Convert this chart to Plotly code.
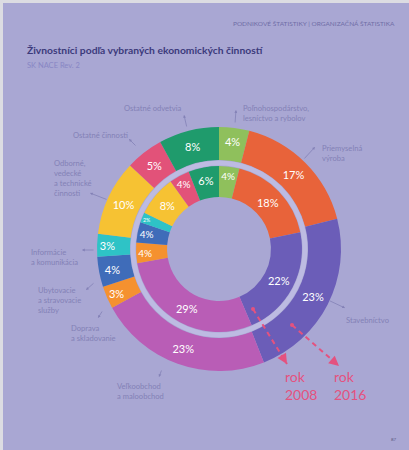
import plotly.graph_objects as go

W, H = 409, 450

# ---- data ----
categories = ["Poľnohospodárstvo, lesníctvo a rybolov", "Priemyselná výroba", "Stavebníctvo",
              "Veľkoobchod a maloobchod", "Doprava a skladovanie", "Ubytovacie a stravovacie služby",
              "Informácie a komunikácia", "Odborné, vedecké a technické činnosti",
              "Ostatné činnosti", "Ostatné odvetvia"]
values_2016 = [4, 17, 23, 23, 3, 4, 3, 10, 5, 8]
values_2008 = [4, 18, 22, 29, 4, 4, 2, 8, 4, 6]
colors = ["#8fc05c", "#e8633a", "#6b5db8", "#b95db6", "#f5912f", "#3f6cb9",
          "#2ec3c6", "#f6c233", "#e25279", "#1f9b6c"]
years = ["2008", "2016"]

BG = "#a9a7d3"
LBL = "#8381b6"
PINK = "#e4527f"

def px(x):
    return x / W

def py(y):
    return 1 - y / H

cx, cy = 219, 249
R_out, R_out_hole = 122, 89
R_in, R_in_hole = 83, 52

fig = go.Figure()
fig.add_trace(go.Pie(
    values=values_2016, labels=categories, text=[f"{v}%" for v in values_2016],
    texttemplate="%{text}", textposition="inside", insidetextorientation="horizontal",
    sort=False, direction="clockwise", hole=R_out_hole / R_out,
    marker=dict(colors=colors, line=dict(width=0)),
    textfont=dict(family="Lato", size=11, color="white"),
    domain=dict(x=[px(cx - R_out), px(cx + R_out)], y=[py(cy + R_out), py(cy - R_out)]),
    showlegend=False, hoverinfo="skip"))
fig.add_trace(go.Pie(
    values=values_2008, labels=categories, text=[f"{v}%" for v in values_2008],
    texttemplate="%{text}", textposition="inside", insidetextorientation="horizontal",
    sort=False, direction="clockwise", hole=R_in_hole / R_in,
    marker=dict(colors=colors, line=dict(width=0)),
    textfont=dict(family="Lato", size=11, color="white"),
    domain=dict(x=[px(cx - R_in), px(cx + R_in)], y=[py(cy + R_in), py(cy - R_in)]),
    showlegend=False, hoverinfo="skip"))

rg = (R_in + R_out_hole) / 2
shapes = [
    # page background
    dict(type="rect", xref="paper", yref="paper", x0=px(3), x1=1, y0=0, y1=py(3),
         fillcolor=BG, line=dict(width=0), layer="below"),
    # light band between the two donuts
    dict(type="circle", xref="paper", yref="paper", x0=px(cx - rg), x1=px(cx + rg),
         y0=py(cy + rg), y1=py(cy - rg), line=dict(color="#bdbbe2", width=5)),
]

annotations = []
# header / titles
annotations.append(dict(text="PODNIKOVÉ ŠTATISTIKY | ORGANIZAČNÁ ŠTATISTIKA", x=px(397), y=py(23),
                        xanchor="right", yanchor="middle", showarrow=False,
                        font=dict(family="Lato", size=6.5, color="#6f6da6")))
annotations.append(dict(text="<b>Živnostníci podľa vybraných ekonomických činností</b>", x=px(25), y=py(58),
                        xanchor="left", yanchor="bottom", showarrow=False,
                        font=dict(family="Lato", size=10.3, color="#3c3a7c")))
annotations.append(dict(text="SK NACE Rev. 2", x=px(25), y=py(58.5), xanchor="left", yanchor="top",
                        showarrow=False, font=dict(family="Lato", size=7.5, color="#8886c4")))
annotations.append(dict(text="87", x=px(399), y=py(439), xanchor="right", yanchor="middle",
                        showarrow=False, font=dict(family="Lato", size=4.5, color="#55537a")))

# category labels (text, x, y of top-left)
label_pos = [
    ("Poľnohospodárstvo,<br>lesníctvo a rybolov", 241, 101),
    ("Priemyselná<br>výroba", 320, 141),
    ("Stavebníctvo", 344, 313),
    ("Veľkoobchod<br>a maloobchod", 115, 379),
    ("Doprava<br>a skladovanie", 69, 321),
    ("Ubytovacie<br>a stravovacie<br>služby", 36, 283),
    ("Informácie<br>a komunikácia", 29, 245),
    ("Odborné,<br>vedecké<br>a technické<br>činnosti", 52, 156),
    ("Ostatné činnosti", 71, 128),
    ("Ostatné odvetvia", 122, 101),
]
for t, x, y in label_pos:
    annotations.append(dict(text=t, x=px(x), y=py(y), xanchor="left", yanchor="top", align="left",
                            showarrow=False, font=dict(family="Lato", size=7.6, color=LBL)))

# leader lines: (label end x, y) -> (ring end x, y)
leaders = [
    (236, 110, 235, 124),
    (315, 147, 303, 160),
    (345, 308, 328, 300),
    (159, 377, 162, 369),
    (98, 318, 103, 310),
    (86, 290, 95, 282),
    (82, 250, 95, 250),
    (90, 193, 108, 200),
    (129, 139, 137, 147),
    (184, 115, 187, 128),
]
for x0, y0, x1, y1 in leaders:
    annotations.append(dict(text="", x=px(x0), y=py(y0), ax=x1 - x0, ay=y1 - y0,
                            xref="paper", yref="paper", showarrow=True, arrowhead=2,
                            arrowsize=0.7, arrowwidth=0.8, arrowcolor=LBL))

# year markers
for (sx, sy, ex, ey, tx), yr in zip([(253, 309, 287, 364, 284), (292, 325, 339, 366, 333)], years):
    shapes.append(dict(type="line", xref="paper", yref="paper", x0=px(sx), y0=py(sy), x1=px(ex), y1=py(ey),
                       line=dict(color=PINK, width=2, dash="5px,4px")))
    shapes.append(dict(type="circle", xref="paper", yref="paper", x0=px(sx - 2), x1=px(sx + 2),
                       y0=py(sy + 2), y1=py(sy - 2), fillcolor=PINK, line=dict(width=0)))
    annotations.append(dict(text="", x=px(ex), y=py(ey), ax=-(ex - sx) * 0.12, ay=-(ey - sy) * 0.12,
                            showarrow=True, arrowhead=2, arrowsize=1, arrowwidth=2, arrowcolor=PINK))
    annotations.append(dict(text=f"rok<br>{yr}", x=px(tx), y=py(385.5), xanchor="left", yanchor="middle",
                            align="left", borderpad=0, showarrow=False,
                            font=dict(family="Lato", size=14, color=PINK)))

fig.update_layout(width=W, height=H, margin=dict(l=0, r=0, t=0, b=0),
                  paper_bgcolor="#dcdce2", plot_bgcolor=BG,
                  shapes=shapes, annotations=annotations)
fig.write_html("out.html", config={"displayModeBar": False},
               post_script="document.body.style.margin='0';")
